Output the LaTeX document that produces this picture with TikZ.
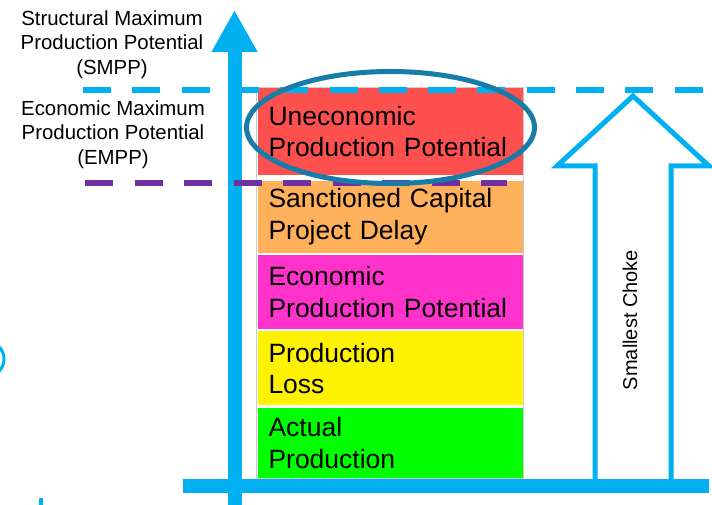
\documentclass[tikz,border=0pt]{standalone}
\usepackage{fontspec}
\setmainfont{Liberation Sans}
\usetikzlibrary{positioning,arrows.meta}
\definecolor{axisblue}{RGB}{0,176,240}
\definecolor{ringblue}{RGB}{24,124,168}
\definecolor{unecored}{RGB}{255,80,80}
\definecolor{delayorange}{RGB}{255,176,90}
\definecolor{econpink}{RGB}{255,51,204}
\definecolor{emppurple}{RGB}{112,48,160}

\begin{document}
\begin{tikzpicture}[x=1pt,y=-1pt,
    bar/.style={text width=243pt, inner xsep=11pt, inner ysep=0pt, align=left,
                font=\fontsize{26.5}{31.5}\selectfont},
    level/.style={line width=6pt, dash pattern=on 28pt off 21.3pt},
    sidetext/.style={align=center, font=\fontsize{20.4}{24.5}\selectfont}]
    \useasboundingbox (0,0) rectangle (712,505);
    % stacked bar
    \node[bar, fill=green, minimum height=70pt, anchor=south] (actual) at (390,478) {Actual\\Production};
    \node[bar, fill=yellow, minimum height=74pt, above=2pt of actual] (loss) {Production\\Loss};
    \node[bar, fill=econpink, minimum height=74pt, above=2pt of loss] (econ) {Economic\\Production Potential};
    \node[bar, fill=delayorange, minimum height=72pt, above=2pt of econ] (delay) {Sanctioned Capital\\Project Delay};
    \node[bar, fill=unecored, minimum height=87pt, above=5pt of delay] (uneco) {Uneconomic\\Production Potential};
    \draw[black!20, line width=0.8pt] ([shift={(-0.5pt,0.5pt)}]uneco.north west) rectangle ([shift={(0.5pt,-0.5pt)}]actual.south east);
    % hollow arrow
    \draw[axisblue, line width=5pt, fill=white, line join=miter]
        (595,479) -- (595,166) -- (557,166) -- (633,96) -- (709,166) -- (671,166) -- (671,479);
    \node[rotate=90, font=\fontsize{20}{24}\selectfont] (choke) at (630,320) {Smallest Choke};
    % axes
    \coordinate (O) at (234.5,505);
    \coordinate (T) at (234.5,10);
    \draw[axisblue, line width=14pt, -{Triangle[width=43pt,length=42pt]}] (O) -- (T);
    \draw[axisblue, line width=14pt] (183,486) -- (709,486);
    % levels
    \draw[level, axisblue] (83,90) -- (712,90);
    \draw[level, emppurple, dash pattern=on 28pt off 21.5pt] (85,183) -- (507,183);
    \draw[ringblue, line width=5pt] (390.5,127.5) ellipse [x radius=144, y radius=56];
    \node[sidetext] (smpp) at (112,44.5) {Structural Maximum\\Production Potential\\(SMPP)};
    \node[sidetext] (empp) at (113,134.5) {Economic Maximum\\Production Potential\\(EMPP)};
    % cut-off bits at the edge
    \draw[axisblue, line width=3pt] (-14,359) circle (18);
    \draw[axisblue, line width=4pt] (40.5,498) -- (40.5,505);
\end{tikzpicture}
\end{document}
